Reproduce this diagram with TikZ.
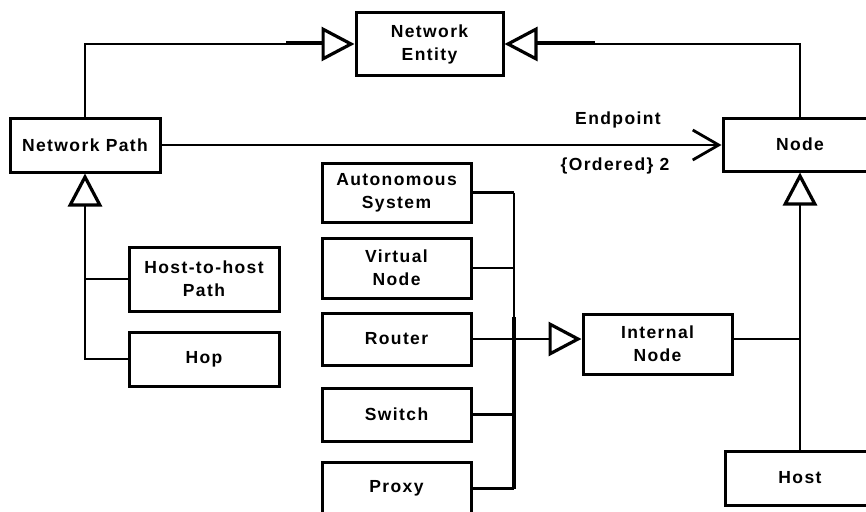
\documentclass[tikz,border=0pt]{standalone}
\usepackage{fontspec}
\newfontfamily\lbl{Liberation Sans}[LetterSpace=8]
\usetikzlibrary{arrows.meta}
\begin{document}
\begin{tikzpicture}[x=1pt,y=-1pt,
  box/.style={draw, line width=3pt, inner sep=0pt, align=center,
    font=\lbl\bfseries\fontsize{17.5}{23}\selectfont},
  lab/.style={inner sep=0pt, font=\lbl\bfseries\fontsize{17.5}{23}\selectfont},
  con/.style={line width=2.8pt},
  gen/.style={con, -{Triangle[open, length=33pt, width=34pt, line width=3.2pt]}},
  nav/.style={con, -{Straight Barb[length=26pt, width=30pt, line width=2.8pt]}}]
\useasboundingbox (0,0) rectangle (866,511);
\clip (0,0) rectangle (866,511);
% boxes
\node[box, minimum width=147pt, minimum height=62pt] (ent) at (429.5,44) {Network\\Entity};
\node[box, minimum width=150pt, minimum height=54pt] (path) at (85,145) {Network Path};
\node[box, minimum width=154pt, minimum height=53pt] (node) at (800,144.5) {Node};
\node[box, minimum width=150pt, minimum height=64pt] (hh) at (204,279) {Host-to-host\\Path};
\node[box, minimum width=150pt, minimum height=54pt] (hop) at (204,359) {Hop};
\node[box, minimum width=149pt, minimum height=59pt] (as) at (396.5,192.5) {Autonomous\\System};
\node[box, minimum width=149pt, minimum height=60pt] (vn) at (396.5,268) {Virtual\\Node};
\node[box, minimum width=149pt, minimum height=52pt] (rt) at (396.5,339) {Router};
\node[box, minimum width=149pt, minimum height=53pt] (sw) at (396.5,414.5) {Switch};
\node[box, minimum width=149pt, minimum height=53pt] (px) at (396.5,488.5) {Proxy};
\node[box, minimum width=149pt, minimum height=60pt] (in) at (657.5,344) {Internal\\Node};
\node[box, minimum width=150pt, minimum height=54pt] (host) at (800,478) {Host};
% labels
\node[lab] (ep) at (618,120) {Endpoint};
\node[lab] (ord) at (615,166) {\{Ordered\} 2};
% generalisations to Network Entity
\draw[gen] (path.north) |- (ent.west);
\draw[line width=4.2pt] (286,43) -- (322,43);
\draw[gen] (node.north) |- (ent.east);
\draw[line width=4.2pt] (537,43) -- (595,43);
% association
\draw[nav] (path.east) -- (path.east -| node.west);
% path specialisations
\draw[gen] (hop.west) -| (path.south);
\draw[con] (hh.west) -- (hh.west -| path.south);
% internal node specialisations
\coordinate (busx) at (514,0);
\draw[con] (as.east) -- (as.east -| busx);
\draw[con] (vn.east) -- (vn.east -| busx);
\draw[con] (sw.east) -- (sw.east -| busx);
\draw[con] (px.east) -- (px.east -| busx);
\draw[con] (as.east -| busx) -- (px.east -| busx);
\draw[line width=3.8pt] (514,317) -- (px.east -| busx);
\draw[gen] (rt.east) -- (rt.east -| in.west);
% node specialisations
\draw[con] (in.east |- rt.east) -- (rt.east -| host.north);
\draw[gen] (host.north) -- (node.south);
\end{tikzpicture}
\end{document}
